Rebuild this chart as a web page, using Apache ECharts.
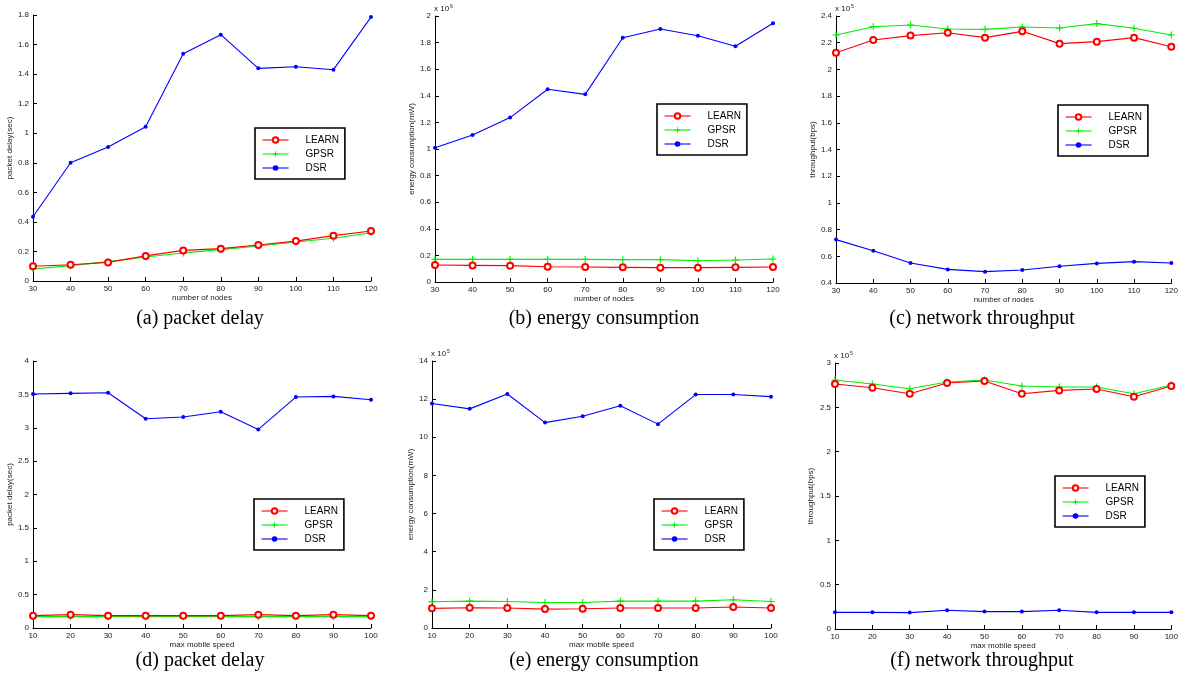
<!DOCTYPE html>
<html>
<head>
<meta charset="utf-8">
<script src="https://cdn.jsdelivr.net/npm/echarts@6/dist/echarts.min.js"></script>
<style>
  html, body { margin: 0; padding: 0; background: #fff; }
  #chart { width: 1181px; height: 687px; }
</style>
</head>
<body>
<div id="chart"></div>
<script>
// x values
var nodes = [30, 40, 50, 60, 70, 80, 90, 100, 110, 120];
var speeds = [10, 20, 30, 40, 50, 60, 70, 80, 90, 100];
var protocols = ['LEARN', 'GPSR', 'DSR'];

// (a) packet delay (sec) vs number of nodes
var delayNodesLEARN = [0.10, 0.11, 0.126, 0.17, 0.207, 0.219, 0.244, 0.27, 0.307, 0.338];
var delayNodesGPSR  = [0.081, 0.104, 0.131, 0.162, 0.19, 0.212, 0.237, 0.264, 0.289, 0.327];
var delayNodesDSR   = [0.435, 0.80, 0.907, 1.044, 1.538, 1.667, 1.439, 1.45, 1.43, 1.786];

// (b) energy consumption (mW, x 10^6) vs number of nodes
var energyNodesLEARN = [0.128, 0.125, 0.123, 0.115, 0.113, 0.110, 0.108, 0.108, 0.110, 0.113];
var energyNodesGPSR  = [0.170, 0.170, 0.170, 0.170, 0.170, 0.168, 0.168, 0.160, 0.165, 0.173];
var energyNodesDSR   = [1.01, 1.105, 1.236, 1.449, 1.411, 1.837, 1.902, 1.852, 1.772, 1.945];

// (c) throughput (bps, x 10^5) vs number of nodes
var thruNodesLEARN = [2.125, 2.22, 2.253, 2.275, 2.238, 2.285, 2.193, 2.208, 2.238, 2.17];
var thruNodesGPSR  = [2.258, 2.32, 2.333, 2.303, 2.30, 2.318, 2.31, 2.343, 2.308, 2.258];
var thruNodesDSR   = [0.725, 0.642, 0.55, 0.502, 0.485, 0.497, 0.525, 0.547, 0.56, 0.55];

// (d) packet delay (sec) vs max mobile speed
var delaySpeedLEARN = [0.185, 0.20, 0.185, 0.185, 0.185, 0.185, 0.20, 0.185, 0.20, 0.185];
var delaySpeedGPSR  = [0.17, 0.17, 0.17, 0.17, 0.17, 0.17, 0.17, 0.17, 0.17, 0.17];
var delaySpeedDSR   = [3.505, 3.515, 3.525, 3.135, 3.16, 3.24, 2.975, 3.46, 3.47, 3.42];

// (e) energy consumption (mW, x 10^5) vs max mobile speed
var energySpeedLEARN = [1.03, 1.06, 1.05, 0.99, 1.01, 1.05, 1.05, 1.05, 1.10, 1.05];
var energySpeedGPSR  = [1.38, 1.41, 1.39, 1.34, 1.34, 1.41, 1.41, 1.41, 1.48, 1.39];
var energySpeedDSR   = [11.77, 11.49, 12.27, 10.77, 11.1, 11.65, 10.69, 12.24, 12.24, 12.13];

// (f) throughput (bps, x 10^5) vs max mobile speed
var thruSpeedLEARN = [2.763, 2.721, 2.654, 2.774, 2.797, 2.654, 2.691, 2.706, 2.62, 2.74];
var thruSpeedGPSR  = [2.808, 2.763, 2.71, 2.785, 2.808, 2.74, 2.729, 2.729, 2.654, 2.752];
var thruSpeedDSR   = [0.188, 0.188, 0.185, 0.211, 0.196, 0.196, 0.211, 0.188, 0.188, 0.188];

var panels = [
  { grid: [33, 15, 338, 266], x: nodes, xmin: 30, xmax: 120, ymin: 0, ymax: 1.8, step: 0.2,
    yname: 'packet delay(sec)', ygap: 18, xname: 'number of nodes',
    data: [delayNodesLEARN, delayNodesGPSR, delayNodesDSR], legend: [255, 128],
    caption: '(a) packet delay', cap: [200, 319] },
  { grid: [435, 16, 338, 266], x: nodes, xmin: 30, xmax: 120, ymin: 0, ymax: 2, step: 0.2,
    yname: 'energy consumption(mW)', ygap: 18, xname: 'number of nodes', exp: '6',
    data: [energyNodesLEARN, energyNodesGPSR, energyNodesDSR], legend: [657, 104],
    caption: '(b) energy consumption', cap: [604, 319] },
  { grid: [836, 16, 338, 267], x: nodes, xmin: 30, xmax: 120, ymin: 0.4, ymax: 2.4, step: 0.2,
    yname: 'throughput(bps)', ygap: 18, xname: 'number of nodes', exp: '5',
    data: [thruNodesLEARN, thruNodesGPSR, thruNodesDSR], legend: [1058, 105],
    caption: '(c) network throughput', cap: [982, 319] },
  { grid: [33, 361, 338, 267], x: speeds, xmin: 10, xmax: 100, ymin: 0, ymax: 4, step: 0.5,
    yname: 'packet delay(sec)', ygap: 19, xname: 'max mobile speed',
    data: [delaySpeedLEARN, delaySpeedGPSR, delaySpeedDSR], legend: [254, 499],
    caption: '(d) packet delay', cap: [200, 661] },
  { grid: [432, 361, 339, 267], x: speeds, xmin: 10, xmax: 100, ymin: 0, ymax: 14, step: 2,
    yname: 'energy consumption(mW)', ygap: 17, xname: 'max mobile speed', exp: '5',
    data: [energySpeedLEARN, energySpeedGPSR, energySpeedDSR], legend: [654, 499],
    caption: '(e) energy consumption', cap: [604, 661] },
  { grid: [835, 363, 337, 266], x: speeds, xmin: 10, xmax: 100, ymin: 0, ymax: 3, step: 0.5,
    yname: 'throughput(bps)', ygap: 20, xname: 'max mobile speed', exp: '5',
    data: [thruSpeedLEARN, thruSpeedGPSR, thruSpeedDSR], legend: [1055, 476],
    caption: '(f) network throughput', cap: [982, 661] }
];

var colors = ['#ff0000', '#00ee00', '#0000ff'];
var plusPath = 'path://M4.2,0H5.8V4.2H10V5.8H5.8V10H4.2V5.8H0V4.2H4.2Z';
var symbols = ['emptyCircle', plusPath, 'circle'];
var symbolSizes = [6, 7, 4];
var tickFont = { fontFamily: 'Liberation Sans, Arial, sans-serif', fontSize: 8, color: '#222' };

var grids = [], xAxes = [], yAxes = [], series = [], legends = [], graphics = [];

panels.forEach(function (p, i) {
  grids.push({ left: p.grid[0], top: p.grid[1], width: p.grid[2], height: p.grid[3] });
  xAxes.push({
    type: 'value', gridIndex: i, min: p.xmin, max: p.xmax, interval: 10,
    name: p.xname, nameLocation: 'middle', nameGap: 13,
    nameTextStyle: { fontFamily: tickFont.fontFamily, fontSize: 8, color: '#222' },
    axisLine: { lineStyle: { color: '#000', width: 1 } },
    axisTick: { inside: true, length: 4, lineStyle: { color: '#000' } },
    axisLabel: Object.assign({ margin: 4 }, tickFont),
    splitLine: { show: false }
  });
  yAxes.push({
    type: 'value', gridIndex: i, min: p.ymin, max: p.ymax, interval: p.step,
    name: p.yname, nameLocation: 'middle', nameGap: p.ygap,
    nameTextStyle: { fontFamily: tickFont.fontFamily, fontSize: 8, color: '#222' },
    axisLine: { show: true, lineStyle: { color: '#000', width: 1 } },
    axisTick: { show: true, inside: true, length: 4, lineStyle: { color: '#000' } },
    axisLabel: Object.assign({
      margin: 4,
      formatter: function (v) { return String(parseFloat(v.toFixed(2))); }
    }, tickFont),
    splitLine: { show: false }
  });
  protocols.forEach(function (name, k) {
    series.push({
      name: name, type: 'line', xAxisIndex: i, yAxisIndex: i,
      data: p.x.map(function (x, j) { return [x, p.data[k][j]]; }),
      symbol: symbols[k], symbolSize: symbolSizes[k],
      lineStyle: { color: colors[k], width: 1.1 },
      itemStyle: { color: colors[k], borderColor: colors[k], borderWidth: k === 0 ? 1 : 0 },
      z: 3 - k
    });
  });
  legends.push({
    left: p.legend[0], top: p.legend[1], orient: 'vertical',
    data: protocols, borderColor: '#000', borderWidth: 1.6, borderRadius: 0,
    backgroundColor: '#fff', padding: [7, 6, 6, 7], itemGap: 4,
    itemWidth: 26, itemHeight: 7,
    lineStyle: { width: 1.1 },
    textStyle: { fontFamily: 'Liberation Sans, Arial, sans-serif', fontSize: 10, color: '#000',
                 padding: [0, 0, 0, 12] }
  });
  if (p.exp) {
    graphics.push({
      type: 'text', left: p.grid[0] - 1, top: p.grid[1] - 12,
      style: { text: '{a|x 10}{b|' + p.exp + '}',
               rich: { a: { fontSize: 8, fontFamily: tickFont.fontFamily, fill: '#222' },
                       b: { fontSize: 5, fontFamily: tickFont.fontFamily, fill: '#222', verticalAlign: 'top', padding: [0, 0, 5, 1] } } }
    });
  }
  graphics.push({
    type: 'text', x: p.cap[0], y: p.cap[1],
    style: { text: p.caption, font: '20px "Liberation Serif", "Times New Roman", serif',
             fill: '#000', textAlign: 'center', textVerticalAlign: 'middle' }
  });
});

var chart = echarts.init(document.getElementById('chart'));
chart.setOption({
  animation: false,
  backgroundColor: '#fff',
  grid: grids,
  xAxis: xAxes,
  yAxis: yAxes,
  legend: legends,
  series: series,
  graphic: graphics
});
</script>
</body>
</html>
